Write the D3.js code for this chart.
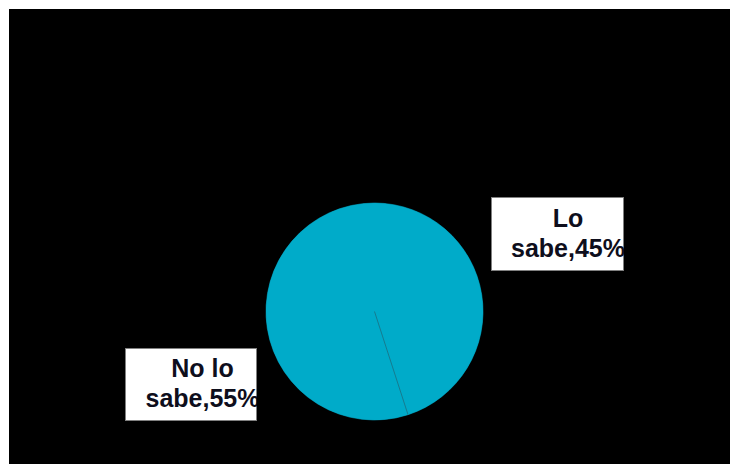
<!DOCTYPE html>
<html><head><meta charset="utf-8">
<script src="https://cdn.jsdelivr.net/npm/d3@7"></script>
<style>html,body{margin:0;padding:0;background:#fff;}svg{display:block;}</style>
</head><body>
<script>
const categories = ["Lo sabe", "No lo sabe"];
const values = [45, 55];
const labelLines = [["Lo", "sabe,45%"], ["No lo", "sabe,55%"]];

const W = 730, H = 464;
const svg = d3.select("body").append("svg").attr("width", W).attr("height", H);
svg.append("rect").attr("x", 9).attr("y", 9).attr("width", W - 9).attr("height", H - 9).attr("fill", "#000");

const cx = 374.5, cy = 311.5, r = 108.5;
const sliceColor = "#00abc9";
const data = categories.map((c, i) => ({cat: c, value: values[i], lines: labelLines[i]}));
const pie = d3.pie().value(d => d.value).sort(null);
const arcs = pie(data);
const arc = d3.arc().innerRadius(0).outerRadius(r);
const g = svg.append("g").attr("transform", `translate(${cx},${cy})`);
g.append("circle").attr("r", r - 0.3).attr("fill", sliceColor);
g.selectAll("path").data(arcs).join("path").attr("d", arc)
  .attr("fill", sliceColor).attr("stroke", sliceColor).attr("stroke-width", 0.6);
// separator line at the end of first slice
const a = arcs[0].endAngle;
g.append("line").attr("x1", 0).attr("y1", 0)
  .attr("x2", r * Math.sin(a)).attr("y2", -r * Math.cos(a))
  .attr("stroke", "#1c6f80").attr("stroke-width", 0.8);

// label boxes (layout relative to pie center)
const boxes = [
  {x: cx + 116.5, y: cy - 114.5, w: 133, h: 74, tx: cx + 193.5, b1: cy - 85},
  {x: cx - 249.5, y: cy + 36.5, w: 132, h: 73, tx: cx - 172, b1: cy + 65}
];
const defs = svg.append("defs");
arcs.forEach((d, i) => {
  const b = boxes[i];
  defs.append("clipPath").attr("id", "clip" + i).append("rect")
    .attr("x", b.x).attr("y", b.y).attr("width", b.w).attr("height", b.h);
  svg.append("rect").attr("x", b.x + 0.5).attr("y", b.y + 0.5).attr("width", b.w - 1).attr("height", b.h - 1)
    .attr("fill", "#fff").attr("stroke", "#808080").attr("stroke-width", 1);
  const t = svg.append("text").attr("clip-path", `url(#clip${i})`)
    .attr("font-family", "Liberation Sans, Arial, sans-serif").attr("font-weight", "bold")
    .attr("font-size", 25).attr("fill", "#0e0e1c").attr("text-anchor", "middle");
  d.data.lines.forEach((ln, j) => {
    t.append("tspan").attr("x", b.tx).attr("y", b.b1 + j * 30).text(ln);
  });
});
</script>
</body></html>
